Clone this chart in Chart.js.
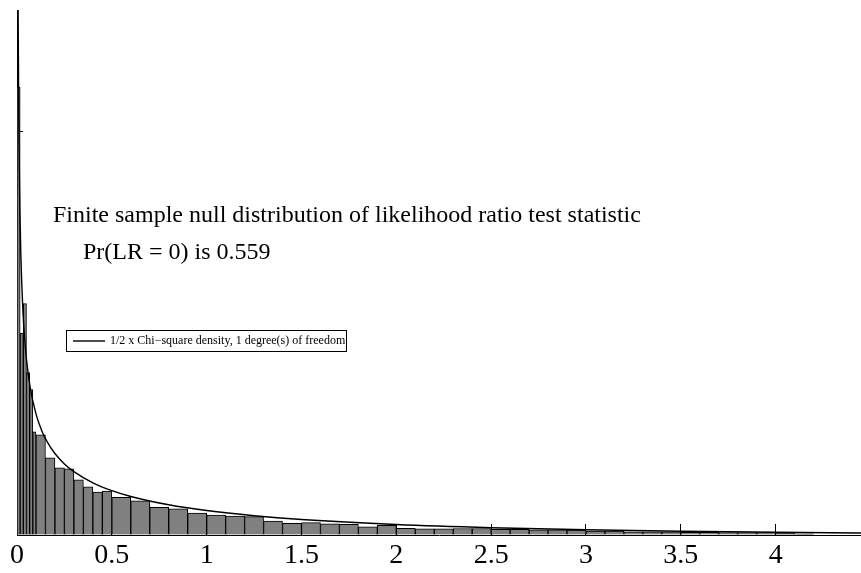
<!DOCTYPE html>
<html>
<head>
<meta charset="utf-8">
<script src="https://cdn.jsdelivr.net/npm/chart.js@4.4.1/dist/chart.umd.min.js"></script>
<style>
html,body{margin:0;padding:0;background:#fff}
</style>
</head>
<body>
<canvas id="myChart" width="861" height="573"></canvas>
<script>
// histogram bins (density units)
// very first bins near zero are 1/60 wide
var fineStart = [0, 1/60, 2/60, 3/60, 4/60, 5/60];
var fineHeight = [2.218, 1.0, 1.146, 0.804, 0.72, 0.511];

// 0.05 wide bins from 0.1 to 0.5
var midStart = [0.1, 0.15, 0.2, 0.25, 0.3, 0.35, 0.4, 0.45];
var midHeight = [0.496, 0.382, 0.333, 0.328, 0.273, 0.238, 0.213, 0.218];

// 0.1 wide bins from 0.5 on
var wideStart = [0.5, 0.6, 0.7, 0.8, 0.9, 1.0, 1.1, 1.2, 1.3, 1.4,
                 1.5, 1.6, 1.7, 1.8, 1.9, 2.0, 2.1, 2.2, 2.3, 2.4,
                 2.5, 2.6, 2.7, 2.8, 2.9, 3.0, 3.1, 3.2, 3.3, 3.4,
                 3.5, 3.6, 3.7, 3.8, 3.9, 4.0, 4.1];
var wideHeight = [0.187, 0.169, 0.137, 0.129, 0.108, 0.099, 0.094, 0.091, 0.069, 0.058,
                  0.061, 0.055, 0.053, 0.040, 0.048, 0.033, 0.031, 0.031, 0.032, 0.032,
                  0.028, 0.028, 0.025, 0.025, 0.024, 0.020, 0.020, 0.016, 0.016, 0.016,
                  0.013, 0.013, 0.012, 0.012, 0.012, 0.008, 0.006];

// 1/2 x chi-square(1) density curve
var curveX = [0.004, 0.006, 0.01, 0.015, 0.02, 0.03, 0.04, 0.05, 0.07, 0.1,
              0.13, 0.16, 0.2, 0.25, 0.3, 0.4, 0.5, 0.6, 0.8, 1.0,
              1.25, 1.5, 2.0, 2.5, 3.0, 3.5, 4.0, 4.45];
var curveY = [3.147, 2.567, 1.985, 1.616, 1.396, 1.134, 0.977, 0.870, 0.728, 0.600,
              0.518, 0.460, 0.4036, 0.352, 0.3135, 0.2582, 0.2197, 0.1908, 0.1495, 0.121,
              0.0955, 0.0769, 0.0519, 0.0361, 0.0257, 0.0185, 0.0135, 0.0102];

var titleLines = ['Finite sample null distribution of likelihood ratio test statistic',
                  'Pr(LR = 0) is 0.559'];
var legendText = '1/2 x Chi\u2212square density, 1 degree(s) of freedom';

var xMin = 0, xMax = 4.45, yMax = 2.6;

function binPoints(starts, heights, width) {
    var pts = [];
    for (var i = 0; i < starts.length; i++) {
        pts.push({x: starts[i] + width / 2, y: heights[i]});
    }
    return pts;
}

var curve = [];
for (var i = 0; i < curveX.length; i++) {
    curve.push({x: curveX[i], y: curveY[i]});
}

function barSet(pts, axis) {
    return {
        type: 'bar',
        data: pts,
        xAxisID: axis,
        backgroundColor: '#808080',
        borderColor: '#000',
        borderWidth: 1,
        barPercentage: 1,
        categoryPercentage: 1,
        grouped: false,
        order: 1
    };
}

// invisible copy of the x axis, one per bin width (so each group gets its own bar width)
function ghostAxis() {
    return {
        type: 'linear', min: xMin, max: xMax, position: 'bottom', offset: false,
        ticks: {display: false, stepSize: 100},
        grid: {display: false, offset: false},
        border: {display: false},
        afterFit: function(s) { s.height = 0; }
    };
}

var serif = '"Liberation Serif", "Times New Roman", serif';

var annotate = {
    id: 'annotate',
    afterDraw: function(chart) {
        var c = chart.ctx;
        c.save();
        c.fillStyle = '#000';
        c.textBaseline = 'alphabetic';
        c.font = '24px ' + serif;
        c.fillText(titleLines[0], 53, 222);
        c.fillText(titleLines[1], 83, 259);
        // legend
        c.strokeStyle = '#000';
        c.lineWidth = 1;
        c.strokeRect(66.5, 330.5, 280, 21);
        c.lineWidth = 1.4;
        c.beginPath();
        c.moveTo(73, 341);
        c.lineTo(105, 341);
        c.stroke();
        c.font = '12px ' + serif;
        c.textBaseline = 'middle';
        c.fillText(legendText, 110, 341);
        c.restore();
    }
};

var ctx = document.getElementById('myChart').getContext('2d');
var myChart = new Chart(ctx, {
    data: {
        datasets: [
            {
                type: 'line',
                data: curve,
                xAxisID: 'x',
                borderColor: '#000',
                borderWidth: 1.4,
                pointRadius: 0,
                fill: false,
                cubicInterpolationMode: 'monotone',
                order: 0
            },
            barSet(binPoints(fineStart, fineHeight, 1/60), 'xFine'),
            barSet(binPoints(midStart, midHeight, 0.05), 'xMid'),
            barSet(binPoints(wideStart, wideHeight, 0.1), 'xWide')
        ]
    },
    options: {
        responsive: false,
        animation: false,
        layout: {padding: {left: 17, top: 10, right: 0, bottom: 0}},
        plugins: {legend: {display: false}, tooltip: {enabled: false}},
        scales: {
            x: {
                type: 'linear', min: xMin, max: xMax, position: 'bottom', offset: false,
                ticks: {stepSize: 0.5, includeBounds: false, color: '#000', maxRotation: 0,
                        autoSkip: false, padding: 15, font: {family: serif, size: 28},
                        callback: function(v) { return String(v); }},
                grid: {drawOnChartArea: false, tickLength: -11, tickColor: '#000'},
                border: {color: '#000', width: 1},
                afterFit: function(s) {
                    s.height = 38;
                    s.paddingLeft = 0;
                    s.paddingRight = 0;
                }
            },
            xFine: ghostAxis(),
            xMid: ghostAxis(),
            xWide: ghostAxis(),
            y: {
                type: 'linear', min: 0, max: yMax,
                ticks: {display: false, stepSize: 2, includeBounds: false},
                grid: {drawOnChartArea: false, tickLength: -6, tickColor: '#000'},
                border: {color: '#000', width: 1},
                afterFit: function(s) { s.width = 0; }
            }
        }
    },
    plugins: [annotate]
});
</script>
</body>
</html>
